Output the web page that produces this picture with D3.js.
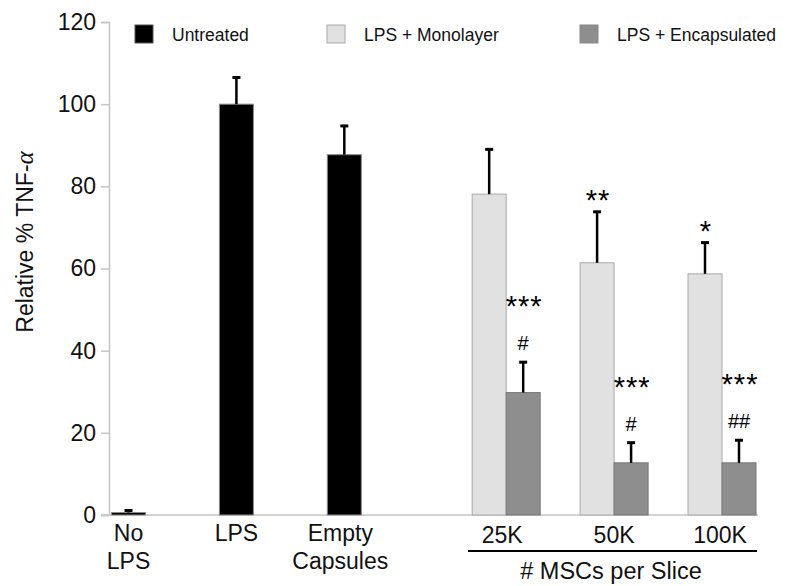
<!DOCTYPE html>
<html>
<head>
<meta charset="utf-8">
<script src="https://cdn.jsdelivr.net/npm/d3@7"></script>
<style>
  html, body { margin: 0; padding: 0; background: #fff; }
  svg { display: block; font-family: "Liberation Sans", Arial, sans-serif; }
</style>
</head>
<body>
<svg id="chart" width="788" height="586"></svg>
<script>
// ---------- data ----------
const singleCats = ["No LPS", "LPS", "Empty Capsules"];
const singleLabels = [["No", "LPS"], ["LPS"], ["Empty", "Capsules"]];
const singleVals = [0.6, 100, 87.7];
const singleErr = [0.5, 6.5, 7.0];

const groupCats = ["25K", "50K", "100K"];
const monoVals = [78.1, 61.4, 58.7];
const monoErr = [10.9, 12.4, 7.6];
const encapVals = [29.8, 12.7, 12.7];
const encapErr = [7.4, 4.9, 5.5];
const monoSig = ["", "**", "*"];
const encapSig = ["***", "***", "***"];
const encapHash = ["#", "#", "##"];

const legendLabels = ["Untreated", "LPS + Monolayer", "LPS + Encapsulated"];
const yTicks = [0, 20, 40, 60, 80, 100, 120];
const yTitleMain = "Relative % TNF-";
const yTitleGreek = "\u03B1";
const groupTitle = "# MSCs per Slice";

// ---------- styles ----------
const colBlack = "#000000";
const colLight = "#e1e1e1";
const colDark = "#8e8e8e";
const axisCol = "#c4c4c4";

const svg = d3.select("#chart");

const y = d3.scaleLinear().domain([0, 120]).range([515, 22]);
// slot positions: three singles, then a 1.5-step gap, then the three groups
const slotIndex = (i) => (i < 3 ? i : i + 0.5);
const xSlot = d3.scaleLinear().domain([0, 5.5]).range([128.5, 722]);
const barW = 34;

// ---------- axes ----------
const yAxis = d3.axisLeft(y).tickValues(yTicks).tickSize(8).tickPadding(5).tickFormat(d3.format("d"));
const gy = svg.append("g").attr("transform", "translate(109,0)").call(yAxis);
gy.select(".domain").attr("stroke", axisCol).attr("stroke-width", 1.5);
gy.selectAll(".tick line").attr("stroke", axisCol).attr("stroke-width", 1.5);
gy.selectAll(".tick text").attr("font-size", 23).attr("fill", "#111")
  .attr("font-family", "'Liberation Sans', Arial, sans-serif");

// x baseline
svg.append("line").attr("x1", 101).attr("x2", 758).attr("y1", y(0)).attr("y2", y(0))
  .attr("stroke", axisCol).attr("stroke-width", 1.5);

// ---------- bars ----------
const bars = [];
singleCats.forEach((c, i) => {
  const cx = xSlot(slotIndex(i));
  bars.push({ x: cx - barW / 2, v: singleVals[i], e: singleErr[i], fill: colBlack, stroke: "#8a8a8a" });
});
groupCats.forEach((c, i) => {
  const cx = xSlot(slotIndex(i + 3));
  bars.push({ x: cx - barW, v: monoVals[i], e: monoErr[i], fill: colLight, stroke: "#a9a9a9", sig: monoSig[i] });
  bars.push({ x: cx, v: encapVals[i], e: encapErr[i], fill: colDark, stroke: "#777", sig: encapSig[i], hash: encapHash[i] });
});

svg.append("g").selectAll("rect").data(bars).join("rect")
  .attr("x", d => d.x).attr("width", barW)
  .attr("y", d => y(d.v)).attr("height", d => y(0) - y(d.v))
  .attr("fill", d => d.fill).attr("stroke", d => d.stroke).attr("stroke-width", 1);

// error bars
const eg = svg.append("g");
bars.forEach(d => {
  const cx = d.x + barW / 2;
  eg.append("line").attr("x1", cx).attr("x2", cx).attr("y1", y(d.v)).attr("y2", y(d.v + d.e))
    .attr("stroke", "#000").attr("stroke-width", 2.5);
  eg.append("line").attr("x1", cx - 4).attr("x2", cx + 4).attr("y1", y(d.v + d.e)).attr("y2", y(d.v + d.e))
    .attr("stroke", "#000").attr("stroke-width", 3);
});

// significance marks
const ag = svg.append("g").attr("fill", "#000").attr("text-anchor", "middle");
bars.forEach(d => {
  const cx = d.x + barW / 2;
  const top = y(d.v + d.e);
  if (d.hash) {
    const hc = top - 19;
    ag.append("text").attr("x", cx).attr("y", hc + 7).attr("font-size", 20).text(d.hash);
    if (d.sig) ag.append("text").attr("x", cx + 1).attr("y", hc - 37 + 10).attr("font-size", 29)
      .attr("letter-spacing", 1).text(d.sig);
  } else if (d.sig) {
    ag.append("text").attr("x", cx + 1).attr("y", top - 12 + 10).attr("font-size", 29)
      .attr("letter-spacing", 1).text(d.sig);
  }
});

// ---------- x labels ----------
const lg = svg.append("g").attr("text-anchor", "middle").attr("font-size", 23).attr("fill", "#111");
singleLabels.forEach((lines, i) => {
  const cx = xSlot(slotIndex(i)) - (i === 2 ? 4 : 0);
  const t = lg.append("text").attr("x", cx).attr("y", 541);
  lines.forEach((ln, k) => t.append("tspan").attr("x", cx).attr("dy", k === 0 ? 0 : 28).text(ln));
});
groupCats.forEach((c, i) => {
  const cx = xSlot(slotIndex(i + 3)) - (i === 0 ? 4 : (i === 2 ? 2 : 0));
  lg.append("text").attr("x", cx).attr("y", 543).text(c);
});
svg.append("line").attr("x1", 468).attr("x2", 757).attr("y1", 551).attr("y2", 551)
  .attr("stroke", "#000").attr("stroke-width", 2);
lg.append("text").attr("x", 611).attr("y", 579).attr("font-size", 23.5).text(groupTitle);

// ---------- y title ----------
const yt = svg.append("text").attr("transform", "translate(33,242) rotate(-90)")
  .attr("text-anchor", "middle").attr("font-size", 23).attr("fill", "#111");
yt.append("tspan").text(yTitleMain);
yt.append("tspan").attr("font-family", "'Liberation Serif', serif").attr("font-style", "italic")
  .attr("font-size", 25).text(yTitleGreek);

// ---------- legend ----------
const legendX = [135, 327, 580];
const legendFill = [colBlack, colLight, colDark];
const legendStroke = ["#555", "#aaa", "#888"];
const leg = svg.append("g");
legendLabels.forEach((lab, i) => {
  leg.append("rect").attr("x", legendX[i]).attr("y", 25).attr("width", 18).attr("height", 18)
    .attr("fill", legendFill[i]).attr("stroke", legendStroke[i]).attr("stroke-width", 1);
  leg.append("text").attr("x", legendX[i] + 37).attr("y", 40.5).attr("font-size", 17.5)
    .attr("fill", "#111").text(lab);
});
</script>
</body>
</html>
